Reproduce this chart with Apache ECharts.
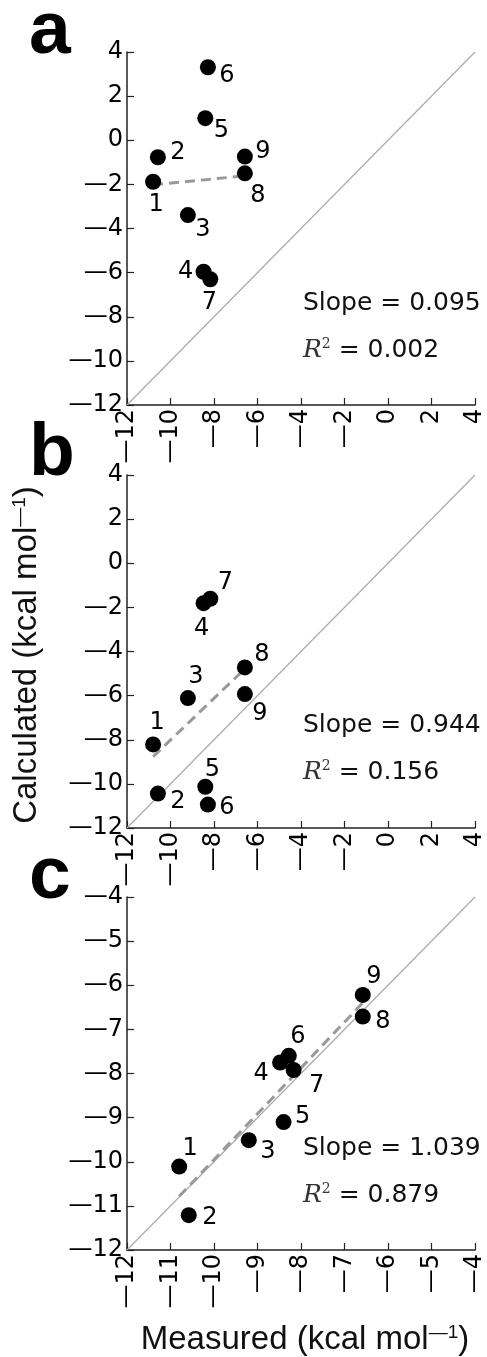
<!DOCTYPE html>
<html>
<head>
<meta charset="utf-8">
<script src="https://cdn.jsdelivr.net/npm/echarts@6/dist/echarts.min.js"></script>
<style>
  html, body { margin: 0; padding: 0; background: #fff; }
  #main { width: 487px; height: 1357px; }
</style>
</head>
<body>
<div id="main"></div>
<script>
// compound ids and measured binding energies (kcal/mol)
const ids = ['1', '2', '3', '4', '5', '6', '7', '8', '9'];
const measured = [-10.8, -10.58, -9.2, -8.48, -8.4, -8.28, -8.17, -6.58, -6.58];
// calculated values, one array per panel
const calcA = [-1.88, -0.77, -3.39, -5.96, 1.0, 3.31, -6.30, -1.50, -0.74];
const calcB = [-8.21, -10.44, -6.11, -1.81, -10.13, -10.94, -1.61, -4.72, -5.93];
const calcC = [-10.11, -11.21, -9.51, -7.75, -9.10, -7.60, -7.92, -6.71, -6.22];
const slopes = [0.095, 0.944, 1.039];
const r2 = [0.002, 0.156, 0.879];
const letters = ['a', 'b', 'c'];

const TICK_FONT = 'DejaVu Sans';
const chart = echarts.init(document.getElementById('main'));

// panel layout (pixels)
const panels = [
  { calc: calcA, top: 52, min: -12, max: 4, step: 2,
    off: [[3,23],[20,-4],[15,15],[-18,0],[16,13],[19,9],[-1,24],[13,22],[18,-5]],
    letterY: 32, slopeY: 303 },
  { calc: calcB, top: 475, min: -12, max: 4, step: 2,
    off: [[4,-22],[20,8],[8,-21],[-2,26],[7,-17],[19,3],[15,-16],[17,-13],[15,20]],
    letterY: 454, slopeY: 725 },
  { calc: calcC, top: 897, min: -12, max: -4, step: 1,
    off: [[11,-18],[21,3],[19,12],[-19,11],[19,-5],[9,-19],[23,16],[20,5],[11,-18]],
    letterY: 877, slopeY: 1148 }
];

function fmt(v) {
  return v < 0 ? '\u2014' + Math.abs(v) : String(v);
}

function mean(a) {
  return a.reduce((s, v) => s + v, 0) / a.length;
}

const grid = [], xAxis = [], yAxis = [], series = [], graphic = [];

panels.forEach((p, i) => {
  grid.push({ left: 127, top: p.top, width: 353, height: 353 });
  const axisCommon = {
    type: 'value', min: p.min, max: p.max, interval: p.step,
    gridIndex: i,
    splitLine: { show: false },
    axisLine: { onZero: false, lineStyle: { color: '#222', width: 1.5 } },
    axisTick: { inside: true, length: 7, lineStyle: { color: '#222', width: 1.2 } },
    axisLabel: { color: '#000', fontSize: 24, fontFamily: TICK_FONT, formatter: fmt }
  };
  xAxis.push(Object.assign({}, axisCommon, {
    axisLabel: Object.assign({}, axisCommon.axisLabel, { rotate: 90, margin: 4 })
  }));
  yAxis.push(Object.assign({}, axisCommon, {
    axisLabel: Object.assign({}, axisCommon.axisLabel, { margin: 4 })
  }));

  // identity line
  series.push({
    type: 'line', xAxisIndex: i, yAxisIndex: i, silent: true,
    symbol: 'none', z: 1,
    lineStyle: { color: '#aaa', width: 1.2 },
    data: [[p.min, p.min], [p.max, p.max]]
  });

  // fitted line through the centroid with the reported slope
  const mx = mean(measured), my = mean(p.calc);
  const x0 = Math.min(...measured), x1 = Math.max(...measured);
  series.push({
    type: 'line', xAxisIndex: i, yAxisIndex: i, silent: true,
    symbol: 'none', z: 2,
    lineStyle: { color: '#999', width: 3, type: [10, 6] },
    data: [[x0, my + slopes[i] * (x0 - mx)], [x1, my + slopes[i] * (x1 - mx)]]
  });

  series.push({
    type: 'scatter', xAxisIndex: i, yAxisIndex: i, z: 3,
    symbol: 'circle', symbolSize: 16,
    itemStyle: { color: '#000', opacity: 1 },
    label: {
      show: true, position: 'inside', color: '#000',
      fontSize: 24, fontFamily: TICK_FONT,
      formatter: params => ids[params.dataIndex]
    },
    data: measured.map((x, k) => ({
      value: [x, p.calc[k]],
      label: { offset: p.off[k] }
    }))
  });

  graphic.push({
    type: 'text', x: 29, y: p.letterY,
    style: { text: letters[i], font: 'bold 75px Liberation Sans', fill: '#000',
      align: 'left', verticalAlign: 'middle' }
  });
  graphic.push({
    type: 'text', x: 303, y: p.slopeY,
    style: { text: 'Slope = ' + slopes[i].toFixed(3), font: '25px DejaVu Sans', fill: '#111',
      align: 'left', verticalAlign: 'middle' }
  });
  graphic.push({
    type: 'text', x: 303, y: p.slopeY + 47,
    style: {
      text: '{r|R}{s|2}{t| = ' + r2[i].toFixed(3) + '}',
      align: 'left', verticalAlign: 'middle', fill: '#111',
      rich: {
        r: { fontFamily: 'DejaVu Serif', fontStyle: 'italic', fontSize: 25, fill: '#333' },
        s: { fontFamily: 'DejaVu Serif', fontSize: 14, verticalAlign: 'top', fill: '#333' },
        t: { fontFamily: 'DejaVu Sans', fontSize: 25, fill: '#111' }
      }
    }
  });
});

// axis titles
const titleRich = {
  m: { fontFamily: 'Liberation Sans', fontSize: 33, fill: '#111' },
  s: { fontFamily: 'Liberation Sans', fontSize: 19, verticalAlign: 'top', fill: '#111' }
};
graphic.push({
  type: 'text', x: 27, y: 655, rotation: Math.PI / 2,
  style: {
    text: '{m|Calculated (kcal mol}{s|\u20141}{m|)}',
    align: 'center', verticalAlign: 'middle', rich: titleRich
  }
});
graphic.push({
  type: 'text', x: 305, y: 1340,
  style: {
    text: '{m|Measured (kcal mol}{s|\u20141}{m|)}',
    align: 'center', verticalAlign: 'middle', rich: titleRich
  }
});

chart.setOption({
  backgroundColor: '#fff',
  animation: false,
  grid: grid,
  xAxis: xAxis,
  yAxis: yAxis,
  series: series,
  graphic: graphic
});
</script>
</body>
</html>
